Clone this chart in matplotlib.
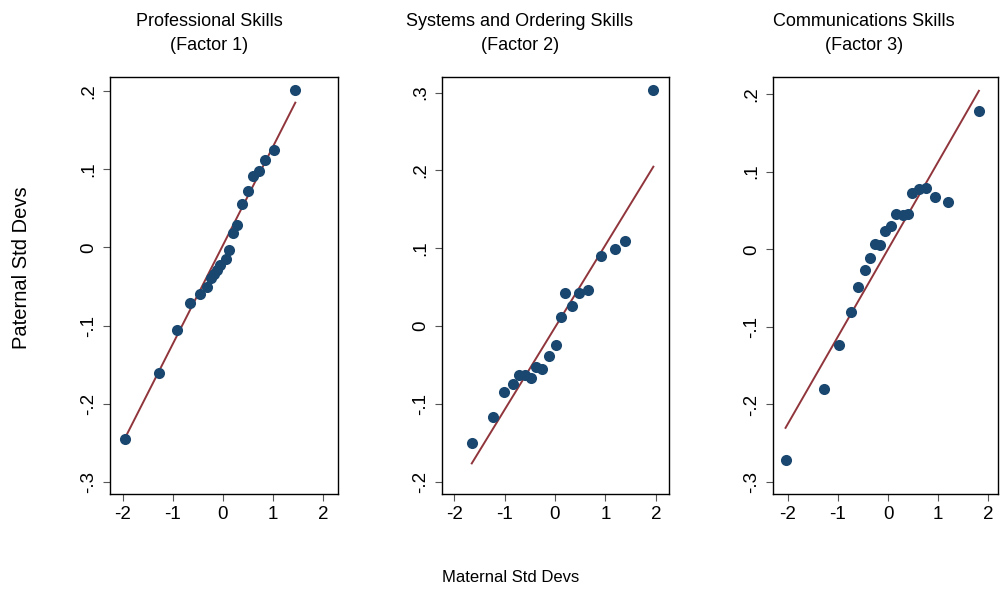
"""Q-Q style comparison of paternal vs maternal skill factors."""
import matplotlib.pyplot as plt
import numpy as np

plt.rcParams['font.family'] = ['Liberation Sans', 'DejaVu Sans']

titles = [('Professional Skills', '(Factor 1)'),
          ('Systems and Ordering Skills', '(Factor 2)'),
          ('Communications Skills', '(Factor 3)')]

# factor 1
x1 = [-1.95, -1.28, -0.91, -0.65, -0.46, -0.31, -0.23, -0.17, -0.11, -0.05,
      0.05, 0.11, 0.19, 0.27, 0.38, 0.49, 0.59, 0.71, 0.83, 1.01, 1.44]
y1 = [-0.245, -0.161, -0.105, -0.071, -0.059, -0.050, -0.039, -0.034, -0.029, -0.023,
      -0.0145, -0.003, 0.018, 0.029, 0.056, 0.072, 0.091, 0.098, 0.112, 0.124, 0.201]

# factor 2
x2 = [-1.65, -1.23, -1.02, -0.84, -0.71, -0.59, -0.48, -0.38, -0.25, -0.11,
      0.01, 0.12, 0.20, 0.33, 0.48, 0.66, 0.91, 1.19, 1.38, 1.95]
y2 = [-0.150, -0.116, -0.085, -0.074, -0.062, -0.062, -0.066, -0.052, -0.055, -0.038,
      -0.024, 0.012, 0.043, 0.026, 0.043, 0.046, 0.090, 0.099, 0.110, 0.303]

# factor 3
x3 = [-2.04, -1.27, -0.97, -0.74, -0.59, -0.46, -0.36, -0.26, -0.16, -0.06,
      0.06, 0.15, 0.29, 0.40, 0.48, 0.62, 0.76, 0.94, 1.20, 1.81]
y3 = [-0.271, -0.180, -0.124, -0.081, -0.049, -0.027, -0.011, 0.007, 0.006, 0.023,
      0.030, 0.045, 0.044, 0.045, 0.073, 0.078, 0.079, 0.067, 0.061, 0.178]

# reference lines (intercept, slope)
intercepts = [0.003, -0.0015, 0.0]
slopes = [0.1265, 0.1058, 0.1128]

xticks = [-2, -1, 0, 1, 2]
xticklabels = ['-2', '-1', '0', '1', '2']
yticks_list = [[-0.3, -0.2, -0.1, 0, 0.1, 0.2],
               [-0.2, -0.1, 0, 0.1, 0.2, 0.3],
               [-0.3, -0.2, -0.1, 0, 0.1, 0.2]]
yticklabels_list = [['-.3', '-.2', '-.1', '0', '.1', '.2'],
                    ['-.2', '-.1', '0', '.1', '.2', '.3'],
                    ['-.3', '-.2', '-.1', '0', '.1', '.2']]

xs = [x1, x2, x3]
ys = [y1, y2, y3]
xlims = [(-2.25, 2.29), (-2.24, 2.26), (-2.29, 2.19)]
ylims = [(-0.315, 0.218), (-0.215, 0.32), (-0.315, 0.222)]
lefts = [0.110, 0.442, 0.773]
widths = [0.228, 0.227, 0.225]
title_x = [0.209, 0.520, 0.864]

navy = '#1a476f'
maroon = '#90353b'

fig = plt.figure(figsize=(10, 5.92), dpi=100)

for i in range(3):
    ax = fig.add_axes([lefts[i], 0.166, widths[i], 0.704])
    x = np.array(xs[i])
    y = np.array(ys[i])
    lx = np.array([x.min(), x.max()])
    ax.plot(lx, intercepts[i] + slopes[i] * lx, color=maroon, lw=1.4, zorder=2)
    ax.plot(x, y, 'o', color=navy, markersize=8, markeredgewidth=0, zorder=3)
    ax.set_xlim(*xlims[i])
    ax.set_ylim(*ylims[i])
    ax.set_xticks(xticks)
    ax.set_xticklabels(xticklabels)
    ax.set_yticks(yticks_list[i])
    ax.set_yticklabels(yticklabels_list[i], rotation=90, va='center')
    ax.tick_params(direction='out', length=5, width=0.8, color='#555555',
                   labelsize=13.5, pad=4)
    for s in ax.spines.values():
        s.set_linewidth(1.0)
        s.set_color('black')
    line1, line2 = titles[i]
    fig.text(title_x[i], 1 - 22 / 592, line1, ha='center', va='center', fontsize=13)
    fig.text(title_x[i], 1 - 45 / 592, line2, ha='center', va='center', fontsize=13)

fig.text(0.022, 1 - 268 / 592, 'Paternal Std Devs', rotation=90,
         ha='center', va='center', fontsize=14.5)
fig.text(0.511, 1 - 578 / 592, 'Maternal Std Devs', ha='center', va='center',
         fontsize=12)

fig.savefig('out.png', dpi=100)
